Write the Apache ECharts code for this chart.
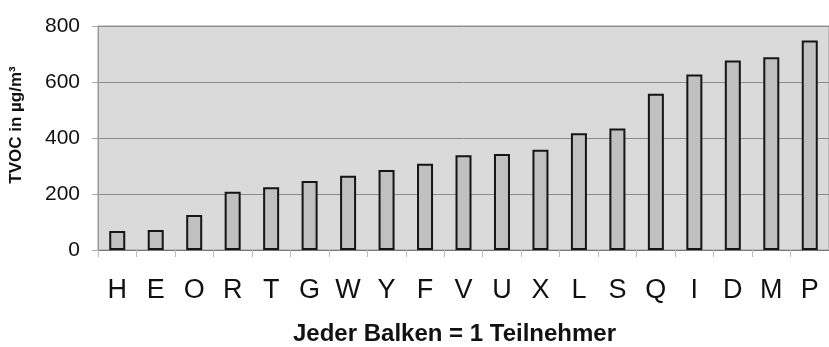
<!DOCTYPE html>
<html>
<head>
<meta charset="utf-8">
<script src="https://cdn.jsdelivr.net/npm/echarts@6/dist/echarts.min.js"></script>
<style>
  html, body { margin: 0; padding: 0; background: #fff; }
  #main { width: 829px; height: 347px; }
</style>
</head>
<body>
<div id="main"></div>
<script>
var participants = ['H', 'E', 'O', 'R', 'T', 'G', 'W', 'Y', 'F', 'V', 'U', 'X', 'L', 'S', 'Q', 'I', 'D', 'M', 'P'];
var tvoc = [68, 71, 125, 208, 224, 246, 265, 286, 308, 338, 343, 358, 417, 434, 558, 627, 677, 688, 748];
var yTicks = [0, 200, 400, 600, 800];

var chartDom = document.getElementById('main');
var myChart = echarts.init(chartDom);
var font = "'Liberation Sans', Arial, sans-serif";

var option = {
  animation: false,
  textStyle: { fontFamily: font },
  title: {
    text: 'Jeder Balken = 1 Teilnehmer',
    left: 293,
    top: 322,
    padding: 0,
    textStyle: { fontFamily: font, fontSize: 24, fontWeight: 'bold', color: '#111' }
  },
  grid: {
    left: 96,
    top: 26,
    width: 739,
    height: 224,
    show: true,
    backgroundColor: '#dadada',
    borderColor: '#9a9a9a',
    borderWidth: 1
  },
  xAxis: {
    type: 'category',
    data: participants,
    axisLine: { lineStyle: { color: '#777', width: 1 } },
    axisTick: { show: true, length: 7, lineStyle: { color: '#bbb' } },
    axisLabel: { fontSize: 27, color: '#111', margin: 27, fontFamily: font }
  },
  yAxis: {
    type: 'value',
    min: yTicks[0],
    max: yTicks[yTicks.length - 1],
    interval: yTicks[1] - yTicks[0],
    name: 'TVOC in µg/m³',
    nameLocation: 'middle',
    nameRotate: 90,
    nameGap: 73,
    nameTextStyle: { fontSize: 17, fontWeight: 'bold', color: '#111', fontFamily: font, padding: [0, 0, 0, 26] },
    axisLine: { show: true, lineStyle: { color: '#999', width: 1 } },
    axisTick: { show: true, length: 6, lineStyle: { color: '#aaa' } },
    axisLabel: { fontSize: 21, color: '#111', margin: 18, fontFamily: font },
    splitLine: { lineStyle: { color: '#8c8c8c', width: 1 } }
  },
  series: [
    {
      type: 'bar',
      data: tvoc,
      barWidth: 16,
      itemStyle: { color: '#c0c0c0', borderColor: '#151515', borderWidth: 2 }
    }
  ]
};

if (chartDom && myChart) {
  myChart.setOption(option);
} else {
  console.error('Failed to initialize the chart');
}
</script>
</body>
</html>
